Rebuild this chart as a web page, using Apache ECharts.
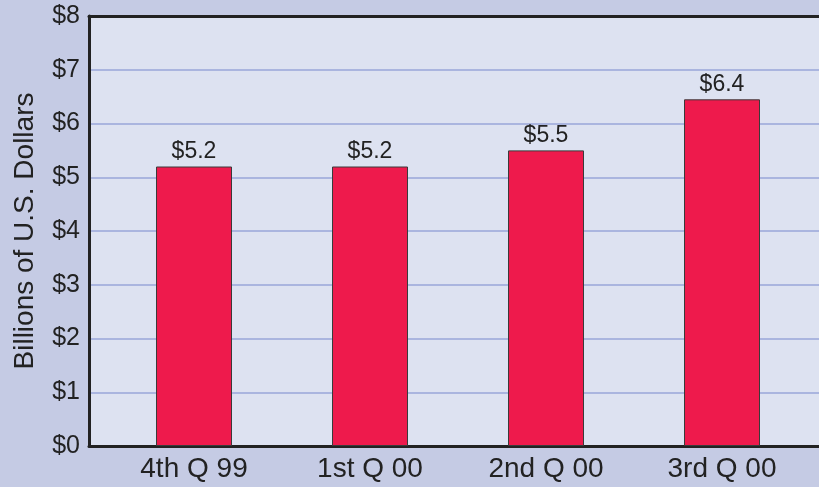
<!DOCTYPE html>
<html><head><meta charset="utf-8">
<script src="https://cdn.jsdelivr.net/npm/echarts@6/dist/echarts.min.js"></script>
<style>html,body{margin:0;padding:0;background:#c5cbe4;}#c{width:819px;height:487px;}</style>
</head><body><div id="c"></div>
<script>
const categories = ['4th Q 99', '1st Q 00', '2nd Q 00', '3rd Q 00'];
const values = [5.2, 5.2, 5.5, 6.45];
const valueLabels = ['$5.2', '$5.2', '$5.5', '$6.4'];
const yTicks = [0, 1, 2, 3, 4, 5, 6, 7, 8];
const yAxisTitle = 'Billions of U.S. Dollars';

const font = '"Liberation Sans", Arial, Helvetica, sans-serif';
const chart = echarts.init(document.getElementById('c'));
chart.setOption({
  backgroundColor: '#c5cbe4',
  animation: false,
  grid: [
    {left: 89, right: 0, top: 16, bottom: 41, show: true, backgroundColor: '#dde2f1', borderWidth: 0},
    {left: 106, width: 704, top: 16, bottom: 41}
  ],
  xAxis: [
    {gridIndex: 0, type: 'category', data: categories, position: 'bottom',
     axisLine: {show: true, lineStyle: {color: '#222', width: 3}}, axisTick: {show: false}, axisLabel: {show: false}},
    {gridIndex: 0, type: 'category', data: categories, position: 'top',
     axisLine: {show: true, lineStyle: {color: '#222', width: 3}}, axisTick: {show: false}, axisLabel: {show: false}},
    {gridIndex: 1, type: 'category', data: categories,
     axisLine: {show: false}, axisTick: {show: false},
     axisLabel: {color: '#222', fontSize: 28, fontFamily: font, margin: 9}}
  ],
  yAxis: [
    {gridIndex: 0, type: 'value', min: yTicks[0], max: yTicks[yTicks.length - 1], interval: 1,
     axisLine: {show: true, lineStyle: {color: '#222', width: 3}}, axisTick: {show: false},
     axisLabel: {color: '#222', fontSize: 25, fontFamily: font, margin: 9, formatter: v => '$' + v},
     splitLine: {show: true, lineStyle: {color: '#98a6d8', width: 1.5}},
     name: yAxisTitle, nameLocation: 'middle', nameGap: 50, nameRotate: 90,
     nameTextStyle: {color: '#222', fontSize: 28, fontFamily: font}},
    {gridIndex: 1, type: 'value', min: yTicks[0], max: yTicks[yTicks.length - 1], interval: 1, show: false}
  ],
  series: [{
    type: 'bar', xAxisIndex: 2, yAxisIndex: 1, data: values, barWidth: 76,
    itemStyle: {color: '#ee1a4c', borderColor: '#3a3a3a', borderWidth: 1},
    label: {show: true, position: 'top', distance: 3, color: '#222', fontSize: 23, fontFamily: font,
      formatter: p => valueLabels[p.dataIndex]}
  }]
});
</script></body></html>
